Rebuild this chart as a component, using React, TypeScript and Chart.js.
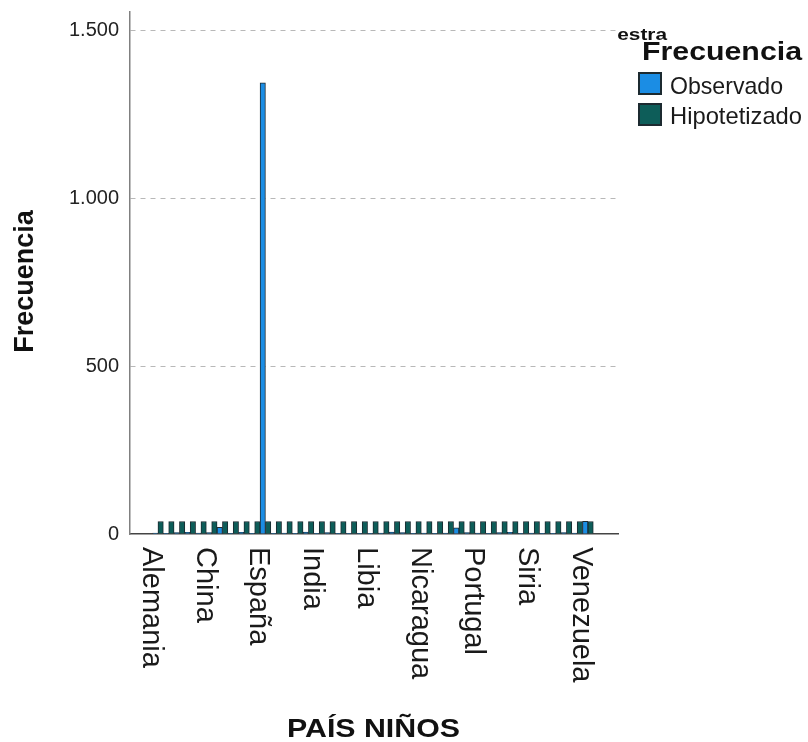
import React, { useEffect, useRef } from 'react';
import { Chart, registerables } from 'chart.js';

Chart.register(...registerables);

const FONT = "'Liberation Sans', Arial, sans-serif";

const categories = [
  'Alemania', 'Argelia', 'Argentina', 'Bolivia', 'Brasil',
  'China', 'Colombia', 'Cuba', 'Ecuador', 'Egipto',
  'España', 'Filipinas', 'Francia', 'Guinea', 'Honduras',
  'India', 'Italia', 'Japón', 'Letonia', 'Líbano',
  'Libia', 'Lituania', 'Marruecos', 'México', 'Moldavia',
  'Nicaragua', 'Nigeria', 'Pakistán', 'Paraguay', 'Perú',
  'Portugal', 'Reino Unido', 'República Dominicana', 'Rumanía', 'Senegal',
  'Siria', 'Suecia', 'Suiza', 'Ucrania', 'Uruguay',
  'Venezuela',
];

const observed = [
  3, 2, 4, 5, 3,
  4, 20, 2, 5, 1,
  1343, 2, 3, 1, 6,
  2, 4, 1, 2, 1,
  2, 3, 6, 4, 2,
  3, 2, 3, 18, 4,
  3, 2, 4, 5, 2,
  3, 1, 2, 4, 3,
  38,
];

const hypothesized = [
  37.3, 37.3, 37.3, 37.3, 37.3,
  37.3, 37.3, 37.3, 37.3, 37.3,
  37.3, 37.3, 37.3, 37.3, 37.3,
  37.3, 37.3, 37.3, 37.3, 37.3,
  37.3, 37.3, 37.3, 37.3, 37.3,
  37.3, 37.3, 37.3, 37.3, 37.3,
  37.3, 37.3, 37.3, 37.3, 37.3,
  37.3, 37.3, 37.3, 37.3, 37.3,
  37.3,
];

const seriesNames = ['Observado', 'Hipotetizado'];
const seriesColors = ['#1b8de4', '#0d5d59'];
const yTickValues = [0, 500, 1000, 1500];
const xTitle = 'PAÍS NIÑOS';
const yTitle = 'Frecuencia';
const legendTitle = 'Frecuencia';
const clippedTitle = 'Muestra';

function fmt(v: number): string {
  return String(v).replace(/\B(?=(\d{3})+(?!\d))/g, '.');
}

function stretchText(ctx: CanvasRenderingContext2D, text: string, x: number, y: number, font: string, width: number) {
  ctx.font = font;
  const w = ctx.measureText(text).width;
  ctx.save();
  ctx.translate(x, y);
  ctx.scale(width / w, 1);
  ctx.textAlign = 'left';
  ctx.textBaseline = 'alphabetic';
  ctx.fillText(text, 0, 0);
  ctx.restore();
}

const overlay = {
  id: 'overlay',
  afterDraw(chart: any) {
    const ctx: CanvasRenderingContext2D = chart.ctx;
    const xs = chart.scales.x;
    ctx.save();

    // category labels, rotated clockwise
    ctx.fillStyle = '#1a1a1a';
    ctx.font = `29px ${FONT}`;
    ctx.textAlign = 'left';
    ctx.textBaseline = 'alphabetic';
    xs.ticks.forEach((t: any) => {
      const name = categories[t.value];
      if (name === undefined) return;
      const px = xs.getPixelForValue(t.value);
      ctx.save();
      ctx.translate(px - 15, xs.top + 13);
      ctx.rotate(Math.PI / 2);
      ctx.fillText(name, 0, 0);
      ctx.restore();
    });

    // y title
    ctx.fillStyle = '#111';
    ctx.save();
    ctx.font = `bold 27px ${FONT}`;
    ctx.translate(33, 281.5);
    ctx.rotate(-Math.PI / 2);
    ctx.textAlign = 'center';
    ctx.fillText(yTitle, 0, 0);
    ctx.restore();

    // x title
    stretchText(ctx, xTitle, 287, 737, `bold 25px ${FONT}`, 173);

    // clipped title behind legend
    ctx.save();
    ctx.beginPath();
    ctx.rect(617, 0, 120, 60);
    ctx.clip();
    ctx.font = `bold 16px ${FONT}`;
    ctx.translate(667, 40);
    ctx.scale(1.3, 1);
    ctx.textAlign = 'right';
    ctx.fillText(clippedTitle, 0, 0);
    ctx.restore();

    // legend
    stretchText(ctx, legendTitle, 642, 60, `bold 25px ${FONT}`, 160);
    const ds = chart.data.datasets;
    const rows = [{ y: 73, base: 94, w: 113 }, { y: 104, base: 124, w: 132 }];
    rows.forEach((r, i) => {
      ctx.fillStyle = ds[i].backgroundColor;
      ctx.fillRect(639, r.y, 22, 21);
      ctx.strokeStyle = '#1c2a30';
      ctx.lineWidth = 2;
      ctx.strokeRect(639, r.y, 22, 21);
      ctx.fillStyle = '#1a1a1a';
      stretchText(ctx, ds[i].label, 670, r.base, `24px ${FONT}`, r.w);
    });

    ctx.restore();
  },
};

export default function App() {
  const ref = useRef<HTMLCanvasElement>(null);

  useEffect(() => {
    if (!ref.current) return;
    const chart = new Chart(ref.current, {
      type: 'bar',
      data: {
        datasets: [
          {
            label: seriesNames[0],
            data: observed.map((v, i) => ({ x: i, y: v })),
            backgroundColor: seriesColors[0],
            borderColor: '#1c2a30',
            borderWidth: 1,
          },
          {
            label: seriesNames[1],
            data: hypothesized.map((v, i) => ({ x: i, y: v })),
            backgroundColor: seriesColors[1],
            borderColor: '#1c2a30',
            borderWidth: 1,
          },
        ],
      },
      options: {
        responsive: false,
        animation: false,
        layout: { padding: { top: 12, right: 190, bottom: 0, left: 0 } },
        datasets: { bar: { categoryPercentage: 1.0, barPercentage: 1.0 } },
        plugins: { legend: { display: false }, tooltip: { enabled: false } },
        scales: {
          x: {
            type: 'linear',
            min: -2.6,
            max: 42.8,
            offset: false,
            grid: { display: false },
            border: { display: true, color: '#444', width: 1.5 },
            ticks: { display: false, stepSize: 5, includeBounds: false },
            afterFit: (s: any) => {
              s.height = 208;
              s.paddingLeft = 0;
              s.paddingRight = 0;
            },
          },
          y: {
            type: 'linear',
            min: 0,
            max: 1554,
            afterBuildTicks: (s: any) => { s.ticks = yTickValues.map((v) => ({ value: v })); },
            grid: {
              drawTicks: false,
              color: (c: any) => (c.tick && c.tick.value === 0 ? 'rgba(0,0,0,0)' : '#b8b8b8'),
              lineWidth: 1,
            },
            border: { display: true, color: '#808080', width: 1.5, dash: [5, 5] },
            ticks: {
              padding: 11,
              color: '#222',
              font: { family: FONT, size: 20 },
              callback: (v: any) => fmt(Number(v)),
            },
            afterFit: (s: any) => {
              s.width = 130;
              s.paddingTop = 0;
              s.paddingBottom = 0;
            },
          },
        },
      },
      plugins: [overlay],
    } as any);
    return () => chart.destroy();
  }, []);

  return (
    <div style={{ position: 'fixed', left: 0, top: 0, width: 808, height: 742, background: '#fff' }}>
      <canvas ref={ref} width={808} height={742} style={{ display: 'block' }} />
    </div>
  );
}
